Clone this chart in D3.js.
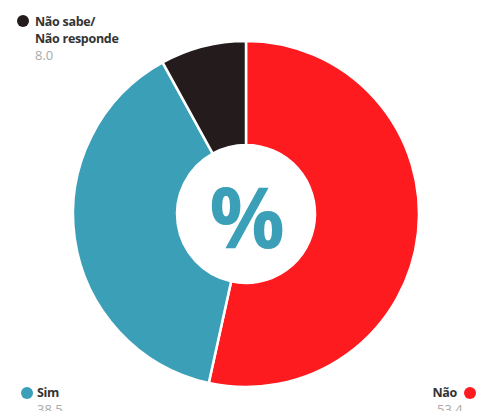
<!DOCTYPE html>
<html>
<head>
<meta charset="utf-8">
<script src="https://cdn.jsdelivr.net/npm/d3@7"></script>
<style>
  body { margin: 0; background: #fff; overflow: hidden; }
  text { font-family: "Open Sans", sans-serif; }
</style>
</head>
<body>
<div id="chart"></div>
<script>
const categories = ["Não", "Sim", "Não sabe/Não responde"];
const values = [53.4, 38.5, 8.0];
const valueLabels = ["53.4", "38.5", "8.0"];
const colors = ["#fe1b20", "#3b9fb7", "#241b1d"];

const width = 485, height = 411;
const cx = 246, cy = 214;
const outerR = 173, innerR = 69;

const svg = d3.select("#chart").append("svg")
  .attr("width", width)
  .attr("height", height);

const data = categories.map((c, i) => ({ name: c, value: values[i], color: colors[i], label: valueLabels[i] }));

const pie = d3.pie().sort(null).value(d => d.value);
const arc = d3.arc().innerRadius(innerR).outerRadius(outerR);

const g = svg.append("g").attr("transform", `translate(${cx},${cy})`);

g.selectAll("path")
  .data(pie(data))
  .enter()
  .append("path")
  .attr("d", arc)
  .attr("fill", d => d.data.color)
  .attr("stroke", "#fff")
  .attr("stroke-width", 2.5);

g.append("text")
  .attr("x", 1)
  .attr("y", 1)
  .attr("text-anchor", "middle")
  .attr("dominant-baseline", "central")
  .attr("font-size", 84)
  .attr("font-weight", "bold")
  .attr("fill", "#3b9fb7")
  .text("%");

// legend labels
const legends = [
  { i: 2, dot: [23, 21], lines: ["Não sabe/", "Não responde"], tx: 35, ty: 26, anchor: "start" },
  { i: 1, dot: [27, 393], lines: ["Sim"], tx: 37, ty: 397, anchor: "start" },
  { i: 0, dot: [470, 393], lines: ["Não"], tx: 457, ty: 397, anchor: "end" }
];

legends.forEach(l => {
  const d = data[l.i];
  svg.append("circle")
    .attr("cx", l.dot[0])
    .attr("cy", l.dot[1])
    .attr("r", 6)
    .attr("fill", d.color);

  const t = svg.append("text")
    .attr("x", l.tx)
    .attr("y", l.ty)
    .attr("text-anchor", l.anchor)
    .attr("font-size", 12.5)
    .attr("font-weight", "bold")
    .attr("fill", "#333")
    .attr("letter-spacing", -0.3);

  l.lines.forEach((s, k) => {
    t.append("tspan")
      .attr("x", l.tx)
      .attr("dy", k === 0 ? 0 : 17)
      .text(s);
  });

  svg.append("text")
    .attr("x", l.anchor === "end" ? l.tx - 20 : l.tx)
    .attr("y", l.ty + 17 * l.lines.length)
    .attr("font-size", 13)
    .attr("fill", "#aaa")
    .text(d.label);
});
</script>
</body>
</html>
